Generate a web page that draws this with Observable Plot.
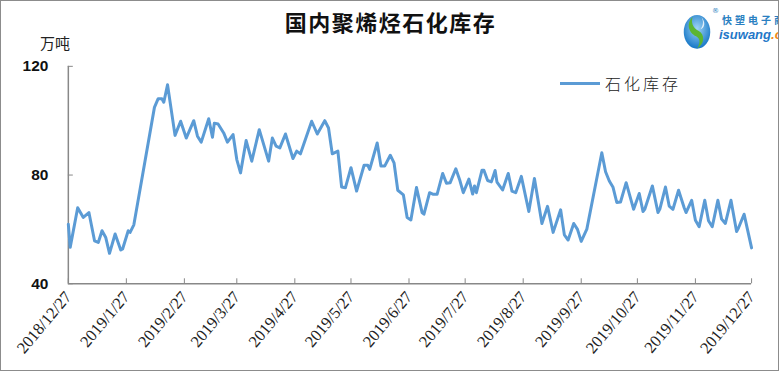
<!DOCTYPE html>
<html>
<head>
<meta charset="utf-8">
<script src="https://cdn.jsdelivr.net/npm/d3@7"></script>
<script src="https://cdn.jsdelivr.net/npm/@observablehq/plot@0.6"></script>
<style>
  html, body { margin: 0; padding: 0; background: #fff; }
  #wrap { position: relative; width: 779px; height: 371px; box-sizing: border-box; border: 1px solid #8c8c8c; overflow: hidden; background: #fff; }
  #chart { position: absolute; left: 0; top: 0; }
  .title { position: absolute; left: 0; width: 779px; top: 4px; text-align: center; font-family: "Noto Sans CJK SC", sans-serif; font-weight: 700; font-size: 22px; color: #111; letter-spacing: 1.5px; }
  .unit { position: absolute; left: 39px; top: 31px; font-family: "Noto Sans CJK SC", sans-serif; font-size: 15px; color: #222; }
  .legend { position: absolute; left: 559px; top: 70px; display: flex; align-items: center; font-family: "Noto Sans CJK SC", sans-serif; font-size: 16px; font-weight: 300; color: #222; letter-spacing: 3px; }
  .legend .sw { width: 40px; height: 0; border-top: 3px solid #5b9bd5; margin-right: 5px; }
  .logo { position: absolute; left: 681px; top: 8px; }
  .logo .t1 { position: absolute; left: 40px; top: 3px; font-family: "Noto Sans CJK SC", sans-serif; font-size: 10px; font-weight: 700; color: #2a7fc1; letter-spacing: 3px; white-space: nowrap; }
  .logo .t2 { position: absolute; left: 37px; top: 18px; font-family: "Liberation Sans", Arial, sans-serif; font-style: italic; font-weight: 700; font-size: 13px; color: #1f78c8; white-space: nowrap; }
  .logo .t2 span { color: #f08a1c; }
  .logo .reg { position: absolute; left: 30px; top: -2px; font-size: 7px; color: #2a7fc1; font-family: "DejaVu Sans", sans-serif; }
</style>
</head>
<body>
<div id="wrap">
  <div id="chart"></div>
  <div class="title">国内聚烯烃石化库存</div>
  <div class="unit">万吨</div>
  <div class="legend"><div class="sw"></div><span>石化库存</span></div>
  <div class="logo">
    <svg width="30" height="44" viewBox="0 0 34 44">
      <defs>
        <radialGradient id="g1" cx="50%" cy="40%" r="60%">
          <stop offset="0%" stop-color="#9fd4f5"/>
          <stop offset="100%" stop-color="#1677c7"/>
        </radialGradient>
      </defs>
      <ellipse cx="17" cy="23" rx="15" ry="19" fill="url(#g1)"/>
      <path d="M12,6 C4,14 8,24 16,28 C22,31 20,38 17,42 C26,36 26,26 19,22 C12,18 10,12 12,6 Z" fill="#5cb531"/>
      <path d="M22,6 C27,12 26,18 21,20 C25,14 24,10 22,6 Z" fill="#ffffff" opacity="0.8"/>
    </svg>
    <div class="reg">®</div>
    <div class="t1">快塑电子商务</div>
    <div class="t2">isuwang<span>.com</span></div>
  </div>
</div>
<script>
const dates = [
  "2018-12-27","2018-12-28","2019-01-01","2019-01-04","2019-01-07","2019-01-10","2019-01-12","2019-01-14",
  "2019-01-16","2019-01-18","2019-01-21","2019-01-24","2019-01-25","2019-01-28","2019-01-29","2019-01-31",
  "2019-02-11","2019-02-13","2019-02-15","2019-02-16","2019-02-18","2019-02-22","2019-02-25","2019-02-28",
  "2019-03-04","2019-03-06","2019-03-08","2019-03-12","2019-03-14","2019-03-15","2019-03-17","2019-03-20",
  "2019-03-22","2019-03-25","2019-03-27","2019-03-29","2019-04-01","2019-04-04","2019-04-08","2019-04-13",
  "2019-04-15","2019-04-17","2019-04-19","2019-04-22","2019-04-26","2019-04-28","2019-04-30","2019-05-06",
  "2019-05-09","2019-05-13","2019-05-15","2019-05-17","2019-05-20","2019-05-22","2019-05-24","2019-05-27",
  "2019-05-30","2019-06-03","2019-06-05","2019-06-06","2019-06-10","2019-06-12","2019-06-14","2019-06-17",
  "2019-06-19","2019-06-21","2019-06-24","2019-06-26","2019-06-28","2019-07-01","2019-07-04","2019-07-05",
  "2019-07-08","2019-07-10","2019-07-12","2019-07-15","2019-07-17","2019-07-19","2019-07-22","2019-07-24",
  "2019-07-26","2019-07-29","2019-07-31","2019-08-01","2019-08-02","2019-08-05","2019-08-06","2019-08-08",
  "2019-08-10","2019-08-12","2019-08-13","2019-08-16","2019-08-19","2019-08-21","2019-08-23","2019-08-26",
  "2019-08-30","2019-09-02","2019-09-06","2019-09-09","2019-09-12","2019-09-16","2019-09-18","2019-09-20",
  "2019-09-23","2019-09-25","2019-09-27","2019-09-30","2019-10-08","2019-10-10","2019-10-12","2019-10-14",
  "2019-10-16","2019-10-18","2019-10-21","2019-10-25","2019-10-28","2019-10-30","2019-10-31","2019-11-04",
  "2019-11-07","2019-11-08","2019-11-11","2019-11-13","2019-11-15","2019-11-18","2019-11-21","2019-11-22",
  "2019-11-25","2019-11-27","2019-11-29","2019-12-02","2019-12-04","2019-12-06","2019-12-09","2019-12-11",
  "2019-12-13","2019-12-16","2019-12-19","2019-12-20","2019-12-23","2019-12-27"
];
const stock = [
  61.9,53.4,68.0,64.4,66.2,55.8,55.2,59.5,
  57.0,51.2,58.3,52.4,52.8,59.5,58.9,61.7,
  104.9,108.1,108.1,106.8,113.2,94.6,99.8,93.6,
  100.0,94.3,92.1,100.7,93.9,99.1,98.8,95.5,
  92.1,94.9,85.7,80.8,92.7,85.1,96.7,85.1,
  93.6,90.6,90.0,95.1,86.1,88.8,87.8,99.8,
  95.1,100.0,97.3,87.8,88.8,75.6,75.3,82.7,
  74.1,83.6,83.6,82.1,91.8,83.3,83.3,87.3,
  84.5,74.4,72.7,64.4,63.5,75.4,66.2,65.6,
  73.5,72.9,72.9,80.6,77.0,77.2,82.3,78.4,
  73.5,78.5,73.0,76.0,73.5,81.8,81.8,78.0,
  77.5,81.7,77.4,74.5,80.6,74.1,73.5,79.5,
  66.6,78.7,62.2,68.5,58.9,67.2,58.0,56.1,
  62.2,60.0,55.6,60.1,88.2,81.2,77.8,75.5,
  69.9,70.1,77.2,67.4,73.2,66.6,67.5,76.0,
  66.2,67.5,75.6,68.6,67.4,74.4,68.0,66.2,
  70.7,63.4,61.0,70.7,63.2,61.0,70.7,63.8,
  62.2,70.7,59.2,60.5,65.6,53.2
];
const tickLabels = ["2018/12/27","2019/1/27","2019/2/27","2019/3/27","2019/4/27","2019/5/27","2019/6/27",
  "2019/7/27","2019/8/27","2019/9/27","2019/10/27","2019/11/27","2019/12/27"];
const yTicks = [40, 80, 120];

const parse = d3.utcParse("%Y-%m-%d");
const data = dates.map((d, i) => ({date: parse(d), value: stock[i]}));
const tickDates = tickLabels.map(s => d3.utcParse("%Y/%m/%d")(s));
const fmt = d => `${d.getUTCFullYear()}/${d.getUTCMonth() + 1}/${d.getUTCDate()}`;

const chart = Plot.plot({
  width: 779,
  height: 371,
  marginLeft: 67,
  marginRight: 27,
  marginTop: 65,
  marginBottom: 88,
  style: {background: "transparent", overflow: "visible"},
  x: {type: "utc", domain: [tickDates[0], tickDates[tickDates.length - 1]], label: null},
  y: {domain: [40, 120], label: null},
  marks: [
    Plot.axisX(tickDates, {tickSize: -5, stroke: "#888", tickFormat: () => "", label: null}),
    Plot.axisX(tickDates, {tickSize: 0, tickPadding: 10, tickRotate: -50, tickFormat: fmt, label: null,
      fontSize: 16.5, fontFamily: "'Liberation Serif', 'DejaVu Serif', serif", fill: "#222"}),
    Plot.axisY(yTicks, {tickSize: -5, stroke: "#888", tickFormat: () => "", label: null}),
    Plot.axisY(yTicks, {tickSize: 0, tickPadding: 20, fontSize: 15.5, fontWeight: 600, label: null,
      fontFamily: "'Liberation Sans', Arial, sans-serif", fill: "#111"}),
    Plot.ruleY([40], {stroke: "#888", strokeWidth: 1.5}),
    Plot.ruleX([tickDates[0]], {stroke: "#888", strokeWidth: 1.5}),
    Plot.line(data, {x: "date", y: "value", stroke: "#5b9bd5", strokeWidth: 3, strokeLinejoin: "round"})
  ]
});
document.getElementById("chart").appendChild(chart);
</script>
</body>
</html>
